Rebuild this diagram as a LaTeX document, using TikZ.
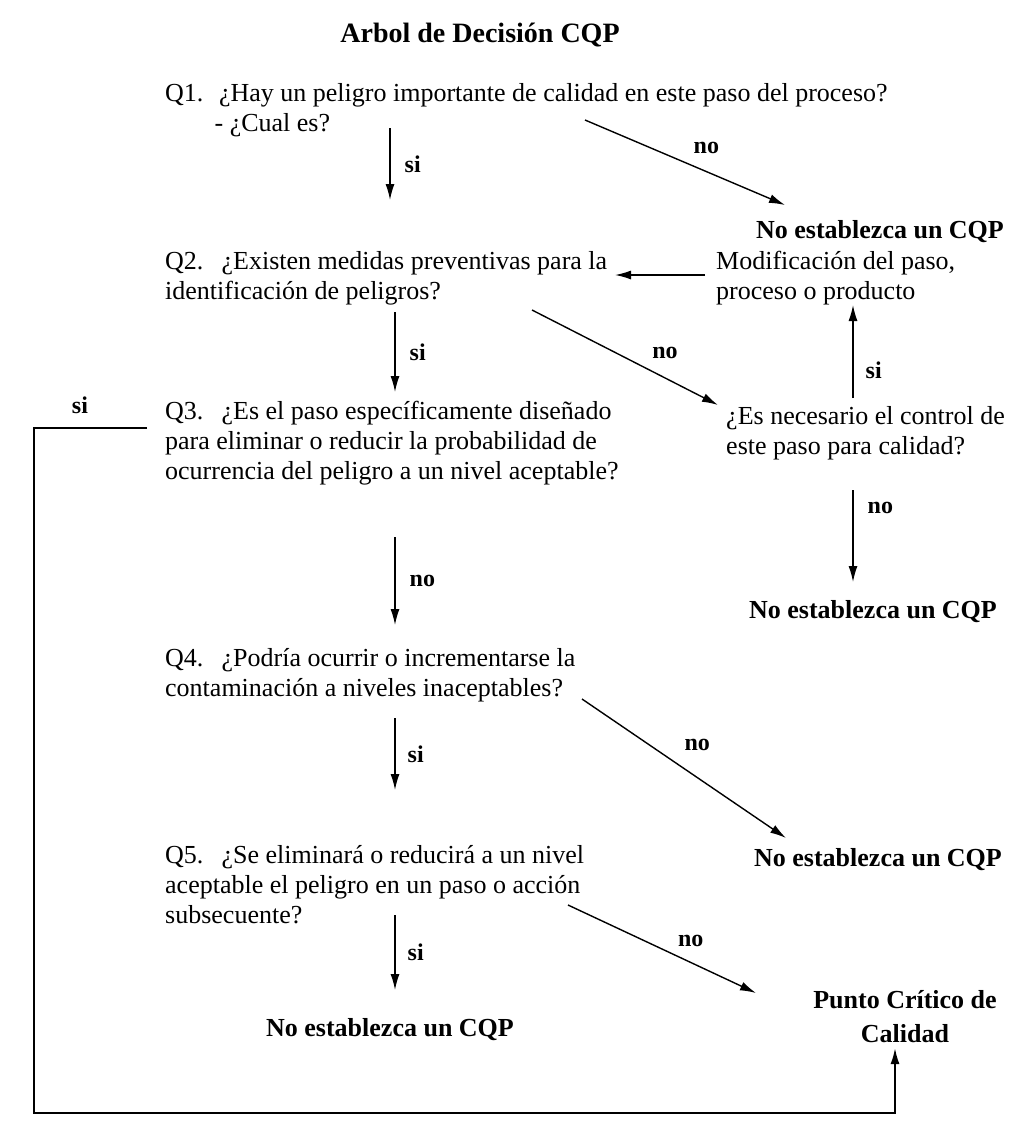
\documentclass[tikz,border=0pt]{standalone}
\usepackage{fontspec}
\setmainfont{Liberation Serif}
\usetikzlibrary{arrows.meta}

\begin{document}
\begin{tikzpicture}[x=1pt,y=-1pt,
    preg/.style={anchor=north west,align=left,inner sep=0pt,font=\fontsize{26}{30}\selectfont},
    fin/.style={align=center,inner sep=0pt,font=\fontsize{26}{34}\selectfont\bfseries},
    etq/.style={inner sep=0pt,font=\fontsize{24}{28}\selectfont\bfseries},
    flecha/.style={line width=1.4pt,-{Latex[length=16pt,width=9pt]}}]
    \useasboundingbox (0,0) rectangle (1032,1122);

    % titulo
    \node[fin,font=\fontsize{28}{32}\selectfont\bfseries] (titulo) at (480,35) {Arbol de Decisión CQP};

    % preguntas
    \node[preg] (q1) at (165,83) {Q1.\hspace{0.6em}¿Hay un peligro importante de calidad en este paso del proceso?\\\hspace{1.9em}- ¿Cual es?};
    \node[preg] (q2) at (165,251) {Q2.\hspace{0.7em}¿Existen medidas preventivas para la\\identificación de peligros?};
    \node[preg] (q3) at (165,401) {Q3.\hspace{0.7em}¿Es el paso específicamente diseñado\\para eliminar o reducir la probabilidad de\\ocurrencia del peligro a un nivel aceptable?};
    \node[preg] (q4) at (165,648) {Q4.\hspace{0.7em}¿Podría ocurrir o incrementarse la\\contaminación a niveles inaceptables?};
    \node[preg] (q5) at (165,845) {Q5.\hspace{0.7em}¿Se eliminará o reducirá a un nivel\\aceptable el peligro en un paso o acción\\subsecuente?};
    \node[preg] (modif) at (716,251) {Modificación del paso,\\proceso o producto};
    \node[preg] (nec) at (726,406) {¿Es necesario el control de\\este paso para calidad?};

    % resultados
    \node[fin] (no1) at (880,232) {No establezca un CQP};
    \node[fin] (no2) at (873,612) {No establezca un CQP};
    \node[fin] (no3) at (878,860) {No establezca un CQP};
    \node[fin] (no4) at (390,1030) {No establezca un CQP};
    \node[fin] (pcc) at (905,1017) {Punto Crítico de\\Calidad};

    % extremos de las flechas
    \coordinate (a1) at (390,128);  \coordinate (b1) at (390,200);
    \coordinate (a2) at (395,312);  \coordinate (b2) at (395,392);
    \coordinate (a3) at (395,537);  \coordinate (b3) at (395,625);
    \coordinate (a4) at (395,718);  \coordinate (b4) at (395,790);
    \coordinate (a5) at (395,915);  \coordinate (b5) at (395,990);
    \coordinate (c1) at (585,120);  \coordinate (d1) at (785,205);
    \coordinate (c2) at (532,310);  \coordinate (d2) at (718,405);
    \coordinate (c4) at (582,699);  \coordinate (d4) at (786,838);
    \coordinate (c5) at (568,905);  \coordinate (d5) at (756,993);
    \coordinate (e1) at (853,398);  \coordinate (f1) at (853,305);
    \coordinate (e2) at (853,490);  \coordinate (f2) at (853,582);
    \coordinate (m1) at (705,275);  \coordinate (m2) at (615,275);
    \coordinate (r1) at (147,428);  \coordinate (r2) at (895,1048);

    % flechas verticales
    \draw[flecha] (a1) -- node[etq,right=14pt] (s1) {si} (b1);
    \draw[flecha] (a2) -- node[etq,right=14pt] (s2) {si} (b2);
    \draw[flecha] (a3) -- node[etq,right=14pt] (n3) {no} (b3);
    \draw[flecha] (a4) -- node[etq,right=12pt] (s4) {si} (b4);
    \draw[flecha] (a5) -- node[etq,right=12pt] (s5) {si} (b5);
    \draw[flecha] (e1) -- node[etq,right=12pt,pos=0.3] (s6) {si} (f1);
    \draw[flecha] (e2) -- node[etq,right=14pt,pos=0.2] (n6) {no} (f2);

    % flechas diagonales
    \draw[flecha] (c1) -- node[etq,above right=8pt,pos=0.5] (n1) {no} (d1);
    \draw[flecha] (c2) -- node[etq,above right=8pt,pos=0.6] (n2) {no} (d2);
    \draw[flecha] (c4) -- node[etq,above right=10pt,pos=0.45] (n4) {no} (d4);
    \draw[flecha] (c5) -- node[etq,above right=6pt,pos=0.55] (n5) {no} (d5);
    \draw[flecha] (m1) -- (m2);

    % retorno por la izquierda
    \node[etq] (s7) at (80,405) {si};
    \draw[line width=2pt,-{Latex[length=16pt,width=9pt]}] (r1) -- (34,428) -- (34,1113) -- (895,1113) -- (r2);
\end{tikzpicture}
\end{document}
